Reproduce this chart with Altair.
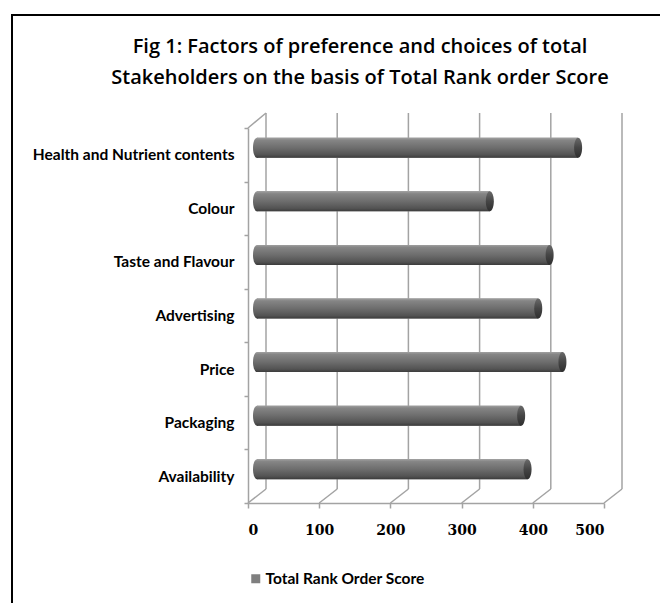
import altair as alt
import pandas as pd

# ---- data ----
factors = ["Health and Nutrient contents", "Colour", "Taste and Flavour",
           "Advertising", "Price", "Packaging", "Availability"]
scores = [451, 327, 411, 395, 429, 371, 380]
ticks = [0, 100, 200, 300, 400, 500]
series_name = "Total Rank Order Score"
title_lines = ["Fig 1: Factors of preference and choices of total",
               "Stakeholders on the basis of Total Rank order Score"]

df = pd.DataFrame({"factor": factors, "score": scores,
                   "series": [series_name] * len(factors)})
tick_df = pd.DataFrame({"tick": ticks})
wall_df = pd.DataFrame({"tick": [0]})

# ---- layout ----
W, H = 356, 375
DX, DY = 18, 14          # depth of the pseudo-3D box
BX, BY = 9, -7           # bar sits at middle depth
GRID = "#a3a3a3"
FONT = "Lato"

x_scale = alt.Scale(domain=[0, 500], nice=False, zero=True)
y_scale = alt.Scale(domain=factors, paddingInner=0, paddingOuter=0)

x_axis = alt.Axis(values=ticks, grid=False, title=None, domainColor=GRID,
                  domainWidth=1.5, tickColor=GRID, tickWidth=1.5, tickSize=5,
                  labelFont="DejaVu Serif", labelFontSize=14, labelFontWeight="bold",
                  labelColor="black", labelPadding=15)
y_axis = alt.Axis(title=None, domainColor=GRID, domainWidth=1.5, tickColor=GRID,
                  tickWidth=1.5, tickSize=4, tickBand="extent", labelLimit=0,
                  labelFont=FONT, labelFontSize=15.5, labelFontWeight="bold",
                  labelColor="black", labelPadding=10)

bar_grad = {"gradient": "linear", "x1": 0, "y1": 0, "x2": 0, "y2": 1,
            "stops": [{"offset": 0, "color": "#a0a0a0"},
                      {"offset": 0.12, "color": "#858585"},
                      {"offset": 0.5, "color": "#6d6d6d"},
                      {"offset": 0.85, "color": "#535353"},
                      {"offset": 1, "color": "#3b3b3b"}]}
cap_grad = {"gradient": "linear", "x1": 0, "y1": 0, "x2": 0, "y2": 1,
            "stops": [{"offset": 0, "color": "#6a6a6a"},
                      {"offset": 0.5, "color": "#454545"},
                      {"offset": 1, "color": "#2e2e2e"}]}
ellipse = "M0,-1 A0.4,1 0 1 1 0,1 A0.4,1 0 1 1 0,-1 Z"

X_tick = alt.X("tick:Q", scale=x_scale, axis=x_axis)
X_score = alt.X("score:Q", scale=x_scale, axis=x_axis)
Y_fac = alt.Y("factor:N", sort=factors, scale=y_scale, axis=y_axis)

# chart frame (top and left edges visible in the reference)
frame_top = alt.Chart(wall_df).mark_rule(color="black", strokeWidth=2).encode(
    x=alt.value(-236), x2=alt.value(W + 80), y=alt.value(-113))
frame_left = alt.Chart(wall_df).mark_rule(color="black", strokeWidth=2).encode(
    x=alt.value(-236), y=alt.value(-114), y2=alt.value(H + 110))

# title as two centred lines
title = alt.Chart(wall_df).mark_text(
    font="Open Sans", fontSize=20, fontWeight=600, color="black",
    align="center", baseline="middle", lineBreak="\n", lineHeight=31).encode(
    x=alt.value(360 - 248), y=alt.value(47 - 128), text=alt.value("\n".join(title_lines)))

# back-wall gridlines
grid = alt.Chart(tick_df).mark_rule(color=GRID, strokeWidth=1.5, xOffset=DX).encode(
    x=X_tick, y=alt.value(-15), y2=alt.value(H - DY))

# floor diagonals
floor = alt.Chart(tick_df).mark_rule(color=GRID, strokeWidth=1.5, x2Offset=DX).encode(
    x=X_tick, x2="tick:Q", y=alt.value(H), y2=alt.value(H - DY))

# left wall top diagonal
wall = alt.Chart(wall_df).mark_rule(color=GRID, strokeWidth=1.5, x2Offset=DX).encode(
    x=X_tick, x2="tick:Q", y=alt.value(0), y2=alt.value(-15))

# legend carrier bars (hidden below the shaded bars)
legend_bars = alt.Chart(df).mark_bar(size=20, xOffset=BX, x2Offset=BX, yOffset=BY).encode(
    x=X_score, y=Y_fac,
    color=alt.Color("series:N",
                    scale=alt.Scale(domain=[series_name], range=["#7f7f7f"]),
                    legend=alt.Legend(title=None, orient="none", legendX=0, legendY=443,
                                      symbolType="square", symbolSize=81,
                                      symbolStrokeWidth=0, padding=0, labelOffset=2,
                                      labelFont=FONT, labelFontSize=15.5,
                                      labelFontWeight="bold", labelColor="black")))

bars = alt.Chart(df).mark_bar(size=20, xOffset=BX, x2Offset=BX, yOffset=BY,
                              fill=bar_grad).encode(x=X_score, y=Y_fac)

left_caps = alt.Chart(df).mark_point(shape=ellipse, size=400, filled=True, fill=bar_grad,
                                     opacity=1, strokeWidth=0,
                                     xOffset=BX, yOffset=BY).encode(
    x=alt.datum(0, scale=x_scale, axis=x_axis), y=Y_fac)

right_caps = alt.Chart(df).mark_point(shape=ellipse, size=400, filled=True, fill=cap_grad,
                                      opacity=1, strokeWidth=0,
                                      xOffset=BX, yOffset=BY).encode(x=X_score, y=Y_fac)

chart = alt.layer(
    legend_bars, frame_top, frame_left, title, grid, floor, wall, bars, left_caps, right_caps
).properties(
    width=W, height=H,
    autosize=alt.AutoSizeParams(type="none"),
    padding={"left": 248, "top": 128, "right": 660 - 248 - W, "bottom": 603 - 128 - H},
    background="white",
).configure_view(stroke=None)

chart.save("out.html", embed_options={"renderer": "svg", "actions": False})
